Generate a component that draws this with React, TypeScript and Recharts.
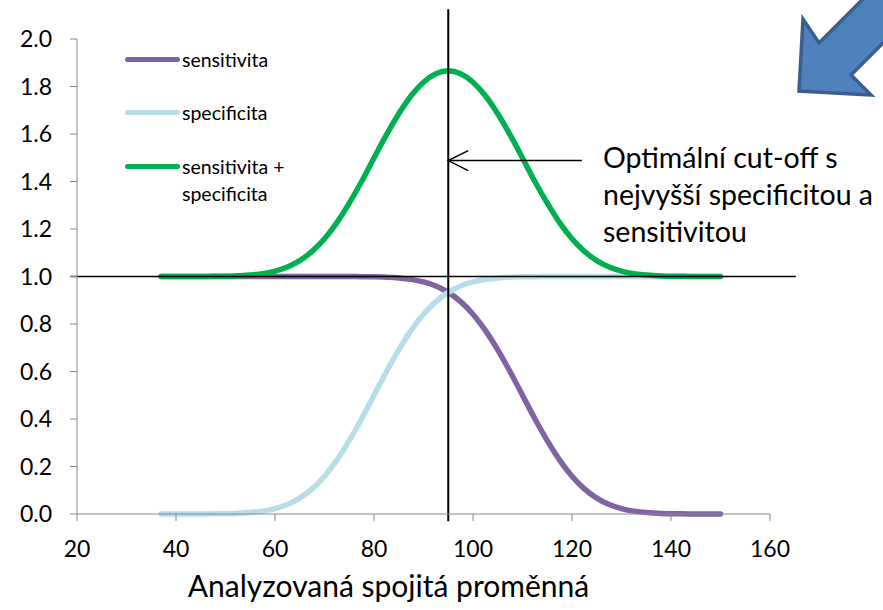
import { Legend, Line, LineChart, ReferenceLine, XAxis, YAxis } from "recharts"

const xValues = [
  37, 40, 42.5, 45, 47.5, 50, 52.5, 55, 57.5, 60, 62.5, 65, 67.5, 70, 72.5, 75, 77.5, 80, 82.5, 85, 87.5, 90, 92.5,
  95, 97.5, 100, 102.5, 105, 107.5, 110, 112.5, 115, 117.5, 120, 122.5, 125, 127.5, 130, 132.5, 135, 137.5, 140,
  142.5, 145, 147.5, 150,
]

const sensitivita = [
  1, 1, 1, 1, 1, 1, 1, 1, 1, 1, 1, 1, 1, 1, 1, 1, 0.999, 0.999, 0.997, 0.994, 0.988, 0.977, 0.96, 0.933, 0.894,
  0.841, 0.773, 0.691, 0.599, 0.5, 0.401, 0.309, 0.227, 0.159, 0.106, 0.067, 0.04, 0.023, 0.012, 0.006, 0.003, 0.001,
  0.001, 0, 0, 0,
]

const specificita = [
  0, 0, 0, 0, 0.001, 0.001, 0.003, 0.006, 0.012, 0.023, 0.04, 0.067, 0.106, 0.159, 0.227, 0.309, 0.401, 0.5, 0.599,
  0.691, 0.773, 0.841, 0.894, 0.933, 0.96, 0.977, 0.988, 0.994, 0.997, 0.999, 0.999, 1, 1, 1, 1, 1, 1, 1, 1, 1, 1, 1,
  1, 1, 1, 1,
]

const soucet = [
  1, 1, 1, 1, 1.001, 1.001, 1.003, 1.006, 1.012, 1.023, 1.04, 1.067, 1.106, 1.159, 1.227, 1.309, 1.4, 1.499, 1.596,
  1.685, 1.761, 1.818, 1.854, 1.866, 1.854, 1.818, 1.761, 1.685, 1.596, 1.499, 1.4, 1.309, 1.227, 1.159, 1.106, 1.067,
  1.04, 1.023, 1.012, 1.006, 1.003, 1.001, 1.001, 1, 1, 1,
]

const xTicks = [20, 40, 60, 80, 100, 120, 140, 160]
const yTicks = [0, 0.2, 0.4, 0.6, 0.8, 1, 1.2, 1.4, 1.6, 1.8, 2]

const cutoff = 95
const annotation = ["Optimální cut-off s", "nejvyšší specificitou a", "sensitivitou"]
const seriesOrder = ["sens", "spec", "sum"]

const data = xValues.map((x, i) => ({
  x,
  sens: sensitivita[i],
  spec: specificita[i],
  sum: soucet[i],
}))

const FONT = "Lato, 'Open Sans', sans-serif"
const TICK_SIZE = 23

function LegendBox({ payload }: any) {
  const items = [...(payload || [])].sort(
    (a: any, b: any) => seriesOrder.indexOf(a.dataKey) - seriesOrder.indexOf(b.dataKey)
  )
  return (
    <div style={{ position: "relative", width: 220, height: 180, fontFamily: FONT, fontSize: 19.5, color: "#000" }}>
      {items.map((entry: any, i: number) => (
        <div key={entry.value} style={{ position: "absolute", left: 0, top: i * 53.3, display: "flex" }}>
          <div
            style={{
              width: 55,
              height: 5,
              marginTop: 11,
              borderRadius: 3,
              background: entry.color,
            }}
          />
          <div style={{ marginLeft: 2, width: 125, lineHeight: "27px" }}>{entry.value}</div>
        </div>
      ))}
    </div>
  )
}

function XTick({ x, y, payload }: any) {
  return (
    <text x={x} y={y} dy="0.71em" textAnchor="middle" fill="#000" fontSize={TICK_SIZE} fontFamily={FONT}>
      {payload.value}
    </text>
  )
}

function YTick({ x, y, payload }: any) {
  return (
    <text x={x} y={y} dy="0.355em" textAnchor="end" fill="#000" fontSize={TICK_SIZE} fontFamily={FONT}>
      {Number(payload.value).toFixed(1)}
    </text>
  )
}

function ArrowShape(props: any) {
  const { x1, y1, x2, y2 } = props
  return (
    <g>
      <line x1={x1} y1={y1} x2={x2} y2={y2} stroke="#000" strokeWidth={1.5} />
      <polyline
        points={`${x2 + 20},${y2 - 10} ${x2},${y2} ${x2 + 20},${y2 + 10}`}
        fill="none"
        stroke="#000"
        strokeWidth={1.5}
      />
    </g>
  )
}

export default function App() {
  return (
    <div style={{ position: "absolute", left: 0, top: 0, width: 883, height: 610, overflow: "hidden", background: "#fff" }}>
      <LineChart width={883} height={610} data={data} margin={{ top: 39, right: 113, left: 0, bottom: 0 }}>
        <XAxis
          dataKey="x"
          type="number"
          domain={[20, 160]}
          ticks={xTicks}
          stroke="#888"
          tickSize={7}
          tickMargin={20}
          height={96}
          tick={XTick}
          label={{
            value: "Analyzovaná spojitá proměnná",
            position: "insideBottom",
            offset: 13,
            dx: -35,
            fill: "#000",
            fontSize: 30,
            fontFamily: FONT,
          }}
        />
        <YAxis
          type="number"
          domain={[0, 2]}
          ticks={yTicks}
          width={77}
          stroke="#888"
          tickSize={7}
          tickMargin={18}
          tick={YTick}
        />
        <Legend
          layout="vertical"
          align="center"
          verticalAlign="middle"
          content={LegendBox}
          wrapperStyle={{ left: 125, top: 46, width: 220, height: 180 }}
        />
        <Line
          type="monotone"
          dataKey="sens"
          name="sensitivita"
          stroke="#8064A2"
          strokeWidth={5.5}
          strokeLinecap="round"
          dot={false}
          isAnimationActive={false}
        />
        <Line
          type="monotone"
          dataKey="spec"
          name="specificita"
          stroke="#B7DEE8"
          strokeWidth={5.5}
          strokeLinecap="round"
          dot={false}
          isAnimationActive={false}
        />
        <Line
          type="monotone"
          dataKey="sum"
          name="sensitivita + specificita"
          stroke="#00B050"
          strokeWidth={5.5}
          strokeLinecap="round"
          dot={false}
          isAnimationActive={false}
        />
        <ReferenceLine
          segment={[
            { x: 18.6, y: 1 },
            { x: 165.2, y: 1 },
          ]}
          ifOverflow="visible"
          stroke="#000"
          strokeWidth={1.5}
        />
        <ReferenceLine
          segment={[
            { x: cutoff, y: -0.03 },
            { x: cutoff, y: 2.125 },
          ]}
          ifOverflow="visible"
          stroke="#000"
          strokeWidth={2}
        />
        <ReferenceLine
          segment={[
            { x: 122, y: 1.488 },
            { x: cutoff, y: 1.488 },
          ]}
          ifOverflow="visible"
          shape={ArrowShape}
        />
      </LineChart>
      <div
        style={{
          position: "absolute",
          left: 603,
          top: 139,
          fontFamily: FONT,
          fontSize: 28.5,
          lineHeight: "37px",
          color: "#000",
          whiteSpace: "nowrap",
        }}
      >
        {annotation.map((t) => (
          <div key={t}>{t}</div>
        ))}
      </div>
      <svg width={883} height={610} style={{ position: "absolute", left: 0, top: 0, pointerEvents: "none" }}>
        <polygon
          points="799,91 803,19 819,43 871,-9 935,-9 851,75 871,95"
          fill="#4F81BD"
          stroke="#3A5F8E"
          strokeWidth={3.5}
          strokeLinejoin="miter"
        />
      </svg>
    </div>
  )
}
